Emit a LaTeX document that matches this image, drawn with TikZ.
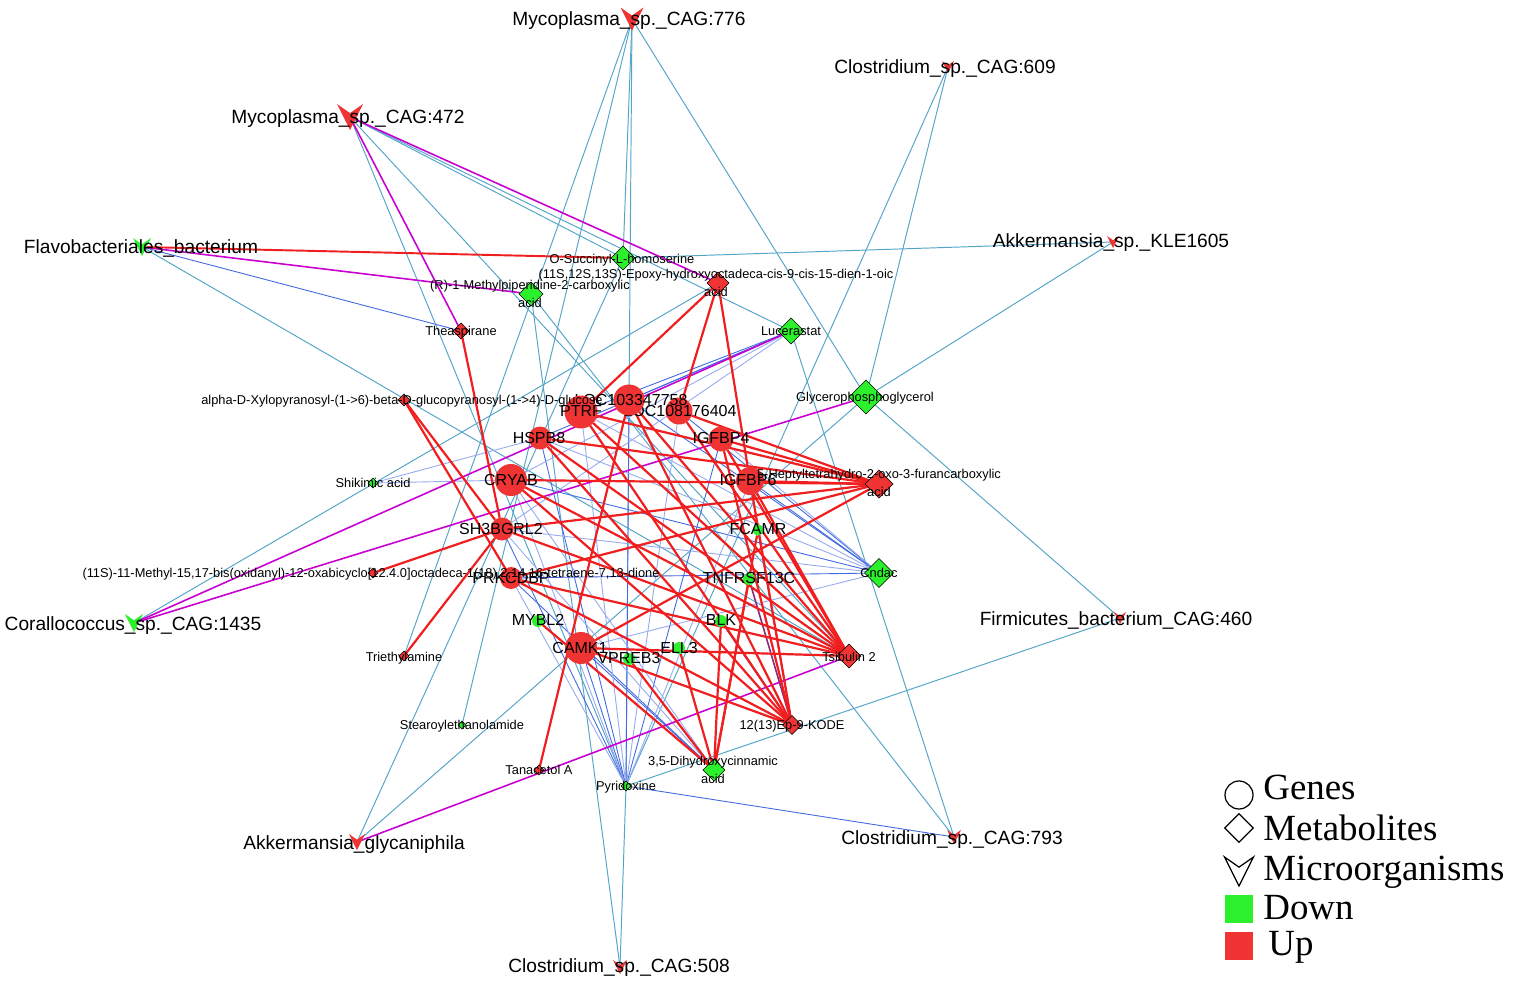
\documentclass[tikz,border=0pt]{standalone}
\usepackage{fontspec}
\setmainfont{Liberation Sans}
\newfontfamily\legfont{Liberation Serif}
\usetikzlibrary{shapes.geometric}
\pgfdeclarelayer{edgelayer}
\pgfsetlayers{edgelayer,main}
\definecolor{nred}{RGB}{240,52,52}
\definecolor{ngreen}{RGB}{45,240,45}
\definecolor{ecyan}{RGB}{85,165,200}
\definecolor{eblue}{RGB}{65,105,225}
\definecolor{elblue}{RGB}{150,170,240}
\definecolor{ered}{RGB}{240,30,30}
\definecolor{emag}{RGB}{200,0,210}
\definecolor{epurp}{RGB}{140,40,120}
\tikzset{
  pics/vsh/.style 2 args={code={\fill[#2] (-#1,-#1) -- (0,-0.3*#1) -- (#1,-#1) -- (0,#1) -- cycle;}},
  pics/vout/.style={code={\draw[black, line width=0.7pt, line join=miter] (-#1,-#1) -- (0,-0.3*#1) -- (#1,-#1) -- (0,#1) -- cycle;}},
  gn/.style={circle, fill=nred, inner sep=0pt, outer sep=0pt},
  gg/.style={circle, fill=ngreen, inner sep=0pt, outer sep=0pt},
  mr/.style={diamond, draw=black, line width=0.35pt, fill=nred, inner sep=0pt, outer sep=0pt},
  mgr/.style={diamond, draw=black, line width=0.35pt, fill=ngreen, inner sep=0pt, outer sep=0pt},
  mlab/.style={font=\fontsize{10.9}{13}\selectfont, inner sep=0pt, anchor=base, yshift=-3.9pt},
  glab/.style={font=\fontsize{9.1}{11}\selectfont, inner sep=0pt, anchor=base, yshift=-3.25pt},
  tlab/.style={font=\fontsize{7.3}{10.2}\selectfont, inner sep=0pt, anchor=base, yshift=-2.6pt},
  tlabb/.style={font=\fontsize{7.3}{10.2}\selectfont, inner sep=0pt, align=center},
  cy/.style={draw=ecyan, line width=0.55pt},
  bl/.style={draw=eblue, line width=0.5pt},
  lb/.style={draw=elblue, line width=0.5pt},
  rd/.style={draw=ered, line width=1.25pt},
  mg/.style={draw=emag, line width=0.9pt},
  pu/.style={draw=epurp, line width=0.9pt},
  leg/.style={font=\legfont\fontsize{21}{25}\selectfont, inner sep=0pt, anchor=base west}
}
\begin{document}
\begin{tikzpicture}[x=0.02cm, y=-0.02cm]
\useasboundingbox (0,0) rectangle (1518,987);

% ---------- microorganisms (centres) ----------
\coordinate (m776) at (632,19);
\coordinate (m609) at (948,67);
\coordinate (m472) at (350,117);
\coordinate (flavo) at (142,247);
\coordinate (akk) at (1113,242);
\coordinate (coral) at (134,623);
\coordinate (firm) at (1120,618);
\coordinate (akkgly) at (357,842);
\coordinate (c793) at (954,837);
\coordinate (c508) at (620,967);

% ---------- metabolites ----------
\node[mgr, minimum size=0.48cm] (osucc) at (623,258) {};
\node[mr,  minimum size=0.44cm] (epoxy) at (718,283) {};
\node[mgr, minimum size=0.48cm] (rmeth) at (531,294) {};
\node[mr,  minimum size=0.32cm] (theas) at (461,331) {};
\node[mgr, minimum size=0.52cm] (lucer) at (791,331) {};
\node[mr,  minimum size=0.24cm] (xylo) at (404,400) {};
\node[mgr, minimum size=0.68cm] (glyc) at (866,397) {};
\node[mgr, minimum size=0.20cm] (shik) at (373,483) {};
\node[mr,  minimum size=0.56cm] (hept) at (879,484) {};
\node[mr,  minimum size=0.20cm] (meth) at (373,573) {};
\node[mgr, minimum size=0.58cm] (cndac) at (879,573) {};
\node[mr,  minimum size=0.20cm] (trie) at (404,656) {};
\node[mr,  minimum size=0.48cm] (tsib) at (849,656) {};
\node[mgr, minimum size=0.16cm] (stear) at (462,725) {};
\node[mr,  minimum size=0.38cm] (kode) at (792,725) {};
\node[mr,  minimum size=0.20cm] (tana) at (539,770) {};
\node[mgr, minimum size=0.44cm] (dihy) at (714,770) {};
\node[mgr, minimum size=0.20cm] (pyri) at (626,786) {};

% ---------- genes ----------
\node[gn, minimum size=0.54cm] (locb) at (679,411) {};
\node[glab] (t-locb) at (680,411) {LOC108176404};
\node[gn, minimum size=0.62cm] (loca) at (629,400) {};
\node[glab] (t-loca) at (631,400) {LOC103347758};
\node[gn, minimum size=0.66cm] (ptrf) at (581,412) {};
\node[glab] (t-ptrf) at (581,411) {PTRF};
\node[gn, minimum size=0.46cm] (hspb) at (540,438) {};
\node[glab] (t-hspb) at (539,438) {HSPB8};
\node[gn, minimum size=0.50cm] (igfa) at (721,439) {};
\node[glab] (t-igfa) at (721,438) {IGFBP4};
\node[gn, minimum size=0.64cm] (cryab) at (511,480) {};
\node[glab] (t-cryab) at (511,480) {CRYAB};
\node[gn, minimum size=0.56cm] (igfb) at (750,481) {};
\node[glab] (t-igfb) at (748,480) {IGFBP6};
\node[gn, minimum size=0.46cm] (shb) at (502,529) {};
\node[glab] (t-shb) at (501,529) {SH3BGRL2};
\node[gg, minimum size=0.22cm] (fcamr) at (758,530) {};
\node[glab] (t-fcamr) at (758,529) {FCAMR};
\node[gn, minimum size=0.44cm] (prk) at (511,578) {};
\node[glab] (t-prk) at (511,578) {PRKCDBP};
\node[gg, minimum size=0.24cm] (tnf) at (749,579) {};
\node[glab] (t-tnf) at (749,578) {TNFRSF13C};
\node[gg, minimum size=0.24cm] (mybl) at (538,621) {};
\node[glab] (t-mybl) at (538,620) {MYBL2};
\node[gg, minimum size=0.24cm] (blk) at (721,621) {};
\node[glab] (t-blk) at (721,620) {BLK};
\node[gn, minimum size=0.64cm] (camk) at (581,648) {};
\node[glab] (t-camk) at (580,648) {CAMK1};
\node[gg, minimum size=0.24cm] (ell) at (679,648) {};
\node[glab] (t-ell) at (679,648) {ELL3};
\node[gg, minimum size=0.24cm] (vpr) at (629,659) {};
\node[glab] (t-vpr) at (629,658) {VPREB3};

% ---------- metabolite labels ----------
\node[tlab] (t-osucc) at (622,259) {O-Succinyl-L-homoserine};
\node[tlabb] (t-epoxy) at (716,283) {(11S,12S,13S)-Epoxy-hydroxyoctadeca-cis-9-cis-15-dien-1-oic\\acid};
\node[tlabb] (t-rmeth) at (530,294) {(R)-1-Methylpiperidine-2-carboxylic\\acid};
\node[tlab] (t-theas) at (461,331) {Theaspirane};
\node[tlab] (t-lucer) at (791,331) {Lucerastat};
\node[tlab] (t-xylo) at (402,400) {alpha-D-Xylopyranosyl-(1->6)-beta-D-glucopyranosyl-(1->4)-D-glucose};
\node[tlab] (t-glyc) at (865,397) {Glycerophosphoglycerol};
\node[tlab] (t-shik) at (373,483) {Shikimic acid};
\node[tlabb] (t-hept) at (879,483) {5-Heptyltetrahydro-2-oxo-3-furancarboxylic\\acid};
\node[tlab] (t-meth) at (371,573) {(11S)-11-Methyl-15,17-bis(oxidanyl)-12-oxabicyclo[12.4.0]octadeca-1(18),2,14,16-tetraene-7,13-dione};
\node[tlab] (t-cndac) at (879,573) {Cndac};
\node[tlab] (t-trie) at (404,657) {Triethylamine};
\node[tlab] (t-tsib) at (849,657) {Tsibulin 2};
\node[tlab] (t-stear) at (462,725) {Stearoylethanolamide};
\node[tlab] (t-kode) at (792,725) {12(13)Ep-9-KODE};
\node[tlab] (t-tana) at (539,770) {Tanacetol A};
\node[tlabb] (t-dihy) at (713,770) {3,5-Dihydroxycinnamic\\acid};
\node[tlab] (t-pyri) at (626,786) {Pyridoxine};

% ---------- microorganism shapes and labels ----------
\pic at (m776) {vsh={11.5}{nred}};
\pic at (m609) {vsh={6}{nred}};
\pic at (m472) {vsh={13}{nred}};
\pic at (flavo) {vsh={9}{ngreen}};
\pic at (akk) {vsh={6}{nred}};
\pic at (coral) {vsh={9}{ngreen}};
\pic at (firm) {vsh={6}{nred}};
\pic at (akkgly) {vsh={8}{nred}};
\pic at (c793) {vsh={7}{nred}};
\pic at (c508) {vsh={7}{nred}};
\node[mlab] (t-m776) at (629,19) {Mycoplasma\_sp.\_CAG:776};
\node[mlab] (t-m609) at (945,67) {Clostridium\_sp.\_CAG:609};
\node[mlab] (t-m472) at (348,117) {Mycoplasma\_sp.\_CAG:472};
\node[mlab] (t-flavo) at (141,247) {Flavobacteriales\_bacterium};
\node[mlab] (t-akk) at (1111,241) {Akkermansia\_sp.\_KLE1605};
\node[mlab] (t-coral) at (133,624) {Corallococcus\_sp.\_CAG:1435};
\node[mlab] (t-firm) at (1116,619) {Firmicutes\_bacterium\_CAG:460};
\node[mlab] (t-akkgly) at (354,843) {Akkermansia\_glycaniphila};
\node[mlab] (t-c793) at (952,838) {Clostridium\_sp.\_CAG:793};
\node[mlab] (t-c508) at (619,966) {Clostridium\_sp.\_CAG:508};

% ---------- legend ----------
\node[circle, draw=black, line width=0.7pt, minimum size=0.56cm, inner sep=0pt] (lg-c) at (1239,795) {};
\node[leg] (lg-ct) at (1263,799) {Genes};
\node[diamond, draw=black, line width=0.7pt, minimum size=0.58cm, inner sep=0pt] (lg-d) at (1239,828) {};
\node[leg] (lg-dt) at (1263,840) {Metabolites};
\coordinate (lg-v) at (1239,871.5);
\pic at (lg-v) {vout={14.5}};
\node[leg] (lg-vt) at (1263,880) {Microorganisms};
\node[fill=ngreen, minimum size=0.56cm, inner sep=0pt] (lg-g) at (1239,909) {};
\node[leg] (lg-gt) at (1263,919) {Down};
\node[fill=nred, minimum size=0.56cm, inner sep=0pt] (lg-r) at (1239,946) {};
\node[leg] (lg-rt) at (1268,955) {Up};

% ---------- edges ----------
\begin{pgfonlayer}{edgelayer}
\fill[white] (0,0) rectangle (1518,987);
\foreach \a/\b in {m776/osucc, m776/pyri, m776/trie, m776/stear, m776/glyc,
  m609/pyri, m609/glyc, m472/osucc, m472/lucer, m472/pyri, m472/tsib,
  flavo/tsib, akk/osucc, akk/glyc, coral/epoxy, firm/glyc, firm/pyri,
  akkgly/osucc, akkgly/glyc, c793/rmeth, c793/lucer, c508/rmeth, c508/pyri}
  \draw[cy] (\a) -- (\b);
\foreach \a/\b in {pyri/camk, pyri/shb, pyri/hspb, pyri/loca, pyri/igfa,
  cndac/igfb, cndac/locb, cndac/loca, cndac/cryab, cndac/prk,
  lucer/ptrf, lucer/hspb, lucer/loca, dihy/camk, dihy/prk, flavo/theas, pyri/c793}
  \draw[bl] (\a) -- (\b);
\foreach \a/\b in {pyri/prk, pyri/cryab, pyri/ptrf, pyri/locb, pyri/igfb,
  cndac/igfa, cndac/ptrf, cndac/hspb, cndac/shb, cndac/camk,
  shik/hspb, shik/cryab, lucer/cryab, lucer/shb, dihy/cryab, dihy/shb}
  \draw[lb] (\a) -- (\b);
\foreach \a/\b in {fcamr/kode, blk/kode, tnf/kode}
  \draw[pu] (\a) -- (\b);
\foreach \a/\b in {m472/theas, m472/epoxy, flavo/rmeth, coral/lucer, coral/glyc, akkgly/tsib}
  \draw[mg] (\a) -- (\b);
\draw[ered, line width=1.1pt] (flavo) -- (osucc);
\foreach \a/\b in {ptrf/hept, ptrf/tsib, ptrf/kode, ptrf/epoxy,
  loca/tana, loca/kode, loca/tsib,
  locb/hept, locb/epoxy, locb/tsib,
  hspb/hept, hspb/tsib, hspb/kode,
  igfa/hept, igfa/tsib, igfa/kode,
  cryab/hept, cryab/tsib, cryab/kode,
  igfb/hept, igfb/epoxy, igfb/tsib, igfb/kode,
  shb/hept, shb/theas, shb/xylo, shb/meth, shb/trie, shb/tsib,
  prk/xylo, prk/tsib, prk/hept, prk/kode,
  camk/tsib, camk/kode, camk/hept,
  mybl/dihy, vpr/dihy, ell/dihy, blk/dihy, tnf/dihy, fcamr/dihy}
  \draw[rd] (\a) -- (\b);
\end{pgfonlayer}
\end{tikzpicture}
\end{document}
